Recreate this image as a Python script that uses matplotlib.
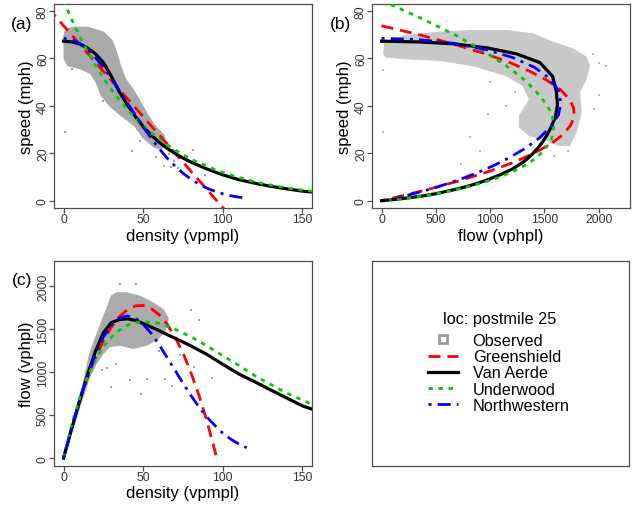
import numpy as np
import matplotlib
matplotlib.use("Agg")
import matplotlib.pyplot as plt
from matplotlib.lines import Line2D

plt.rcParams['font.family'] = ['Liberation Sans', 'DejaVu Sans']

# ---------------- data ----------------
# fitted speed-density models: density (vpmpl) and speed (mph)
greenshield_density = np.array([-10, 0, 5, 10, 15, 20, 25, 30, 35, 40, 45, 50, 55, 60, 65,
                                70, 75, 80, 85, 90, 95, 96.2, 105])
greenshield_speed = np.array([81.5, 73.8, 70.0, 66.1, 62.3, 58.5, 54.6, 50.8, 47.0, 43.1,
                              39.3, 35.5, 31.6, 27.8, 24.0, 20.1, 16.3, 12.4, 8.6, 4.8,
                              0.9, 0.0, -6.7])

vanaerde_density = np.array([0, 5, 10, 15, 20, 25, 30, 35, 40, 45, 50, 55, 60, 65, 70, 75,
                             80, 90, 100, 110, 120, 130, 140, 150, 160, 170, 180, 190,
                             200, 210, 220, 230, 240])
vanaerde_speed = np.array([67.3, 67.0, 66.2, 64.5, 62.0, 58.3, 52.5, 46.0, 40.5, 35.6,
                           31.3, 27.7, 24.7, 22.1, 19.9, 18.0, 16.3, 13.4, 10.9, 8.9,
                           7.4, 6.1, 5.0, 4.05, 3.4, 2.9, 2.4, 1.9, 1.4, 1.0, 0.6,
                           0.25, 0.0])

underwood_density = np.array([0, 5, 10, 15, 20, 25, 30, 35, 40, 45, 50, 55, 60, 65, 70,
                              75, 80, 85, 90, 100, 110, 120, 130, 140, 150, 160, 180,
                              200, 230, 260, 300])
underwood_speed = np.array([84.5, 76.6, 69.5, 63.0, 57.1, 51.8, 46.9, 42.5, 38.6, 35.0,
                            31.7, 28.7, 26.1, 23.6, 21.4, 19.4, 17.6, 16.0, 14.5, 11.9,
                            9.8, 8.0, 6.6, 5.4, 4.5, 3.7, 2.5, 1.7, 0.93, 0.52, 0.24])

northwestern_density = np.array([0, 5, 10, 15, 20, 25, 30, 35, 40, 45, 50, 55, 60, 65,
                                 70, 75, 80, 85, 90, 95, 100, 105, 110, 115])
northwestern_speed = np.array([68.5, 68.0, 66.4, 63.8, 60.4, 56.3, 51.6, 46.5, 41.3, 36.2,
                               31.1, 26.4, 22.0, 18.0, 14.6, 11.6, 9.1, 7.0, 5.3, 4.0,
                               2.9, 2.1, 1.5, 1.05])

# observed data: outline of the dense point cloud in each panel
obs_a_density = [0.3, 1.5, 6.7, 15, 25.2, 30.5, 33.6, 35.7, 38.9, 44.1, 48.3, 52.5, 57,
                 63.3, 64, 61, 57, 50, 44.4, 36.1, 28.8, 23.6, 20.4, 17.2, 11, 2.5, 0.3]
obs_a_speed = [70.0, 72.5, 73.2, 73.2, 71.1, 67.6, 62.0, 57.0, 51.4, 46.5, 41.6, 36.6,
               32.0, 27.5, 24.0, 21.5, 22.5, 26.5, 31.7, 35.9, 40.1, 44.4, 50.0, 53.5,
               55.6, 57.0, 60.0]
obs_b_flow = [20, 30, 227, 534, 840, 1147, 1393, 1577, 1761, 1884, 1914, 1884, 1822,
              1838, 1791, 1730, 1638, 1515, 1362, 1270, 1270, 1331, 1362, 1301, 1147,
              840, 534, 227, 43]
obs_b_speed = [62.0, 66.9, 69.7, 71.1, 71.8, 71.8, 70.4, 66.9, 64.1, 60.6, 57.0, 51.4,
               45.8, 37.3, 28.9, 23.3, 23.3, 25.4, 27.5, 31.0, 35.9, 40.2, 42.9, 48.6,
               52.8, 57.0, 59.2, 59.9, 60.6]
obs_c_density = [0, 5.5, 12, 16.4, 22.7, 26.9, 30, 33.2, 39.5, 47.9, 56.3, 62.6, 65.7,
                 63.6, 58.4, 52.1, 43.7, 35.3, 29, 24.8, 20.6, 16.4, 10.1, 3.8, 0.6]
obs_c_flow = [0, 400, 830, 1216, 1530, 1726, 1883, 1922, 1922, 1883, 1804, 1726, 1628,
              1471, 1373, 1314, 1275, 1314, 1295, 1216, 1099, 942, 589, 236, 21]

# observed: scattered outlying points
out_a_density = [0.6, 11.6, 5, 43.1, 81, 63.2, 67.4, 89.1, 69.5, 58, 25, 48, 66, 72]
out_a_speed = [28.8, 56.3, 55.5, 21.1, 21.5, 14.8, 14.1, 10.9, 16.9, 18.5, 42, 25,
               19.5, 14.0]
out_b_flow = [17, 12, 810, 978, 902, 733, 1592, 1715, 1960, 2068, 2006, 1000, 1150,
              1230, 1950, 2000, 1420, 1300]
out_b_speed = [28.9, 55, 26.8, 36.6, 21.1, 15.5, 19, 21.1, 38.7, 57, 44.4, 50, 40,
               46, 62, 58, 20, 22]
out_c_density = [35.3, 45.3, 24.3, 30, 42, 48.9, 52.1, 33.2, 80, 85.2, 93.2, 68.4,
                 63.8, 82, 27, 60, 73]
out_c_flow = [2020, 2020, 1020, 824, 911, 746, 922, 1099, 1726, 1608, 934, 844, 922,
              1060, 1050, 1250, 1200]

legend_title = "loc: postmile 25"
legend_labels = ["Observed", "Greenshield", "Van Aerde", "Underwood", "Northwestern"]

# ---------------- styling ----------------
W, H = 636, 510
LW = 2.0
styles = {
    'green': dict(color='#ff0000', lw=LW, dashes=(4.3, 2.5)),
    'black': dict(color='#000000', lw=LW + 0.3),
    'under': dict(color='#00cc00', lw=LW, dashes=(1.6, 2.0)),
    'blue': dict(color='#0000ff', lw=LW, dashes=(1.1, 2.2, 4.7, 2.2)),
}
AXC = '#4d4d4d'


def box(l, t, r, b):
    return [l / W, 1 - b / H, (r - l) / W, (b - t) / H]


fig = plt.figure(figsize=(W / 100, H / 100), dpi=100)
ax_a = fig.add_axes(box(54, 4.5, 312, 209.3))
ax_b = fig.add_axes(box(372, 4.5, 630, 209.3))
ax_c = fig.add_axes(box(54, 262.3, 312, 466.7))
ax_l = fig.add_axes(box(372, 262.3, 629, 466.7))


def style(ax, xlim, ylim, xticks, yticks, xlabel, ylabel):
    ax.set_xlim(*xlim)
    ax.set_ylim(*ylim)
    ax.set_xticks(xticks)
    ax.set_yticks(yticks)
    for s in ax.spines.values():
        s.set_color(AXC)
        s.set_linewidth(0.9)
    ax.tick_params(direction='out', length=3.3, width=0.9, color=AXC,
                   labelsize=8.8, labelcolor='#333333', top=False, right=False)
    ax.tick_params(axis='x', pad=0.3)
    ax.tick_params(axis='y', pad=0.3, labelrotation=90)
    for t in ax.get_yticklabels():
        t.set_verticalalignment('center')
    ax.set_xlabel(xlabel, fontsize=12)
    ax.set_ylabel(ylabel, fontsize=12)
    ax.xaxis.set_label_coords(0.5, -0.094)
    ax.yaxis.set_label_coords(-0.0775, 0.5)


k_lim = (-6, 156)
style(ax_a, k_lim, (-3.2, 83.2), [0, 50, 100, 150], [0, 20, 40, 60, 80],
      'density (vpmpl)', 'speed (mph)')
style(ax_b, (-88, 2288), (-3.2, 83.2), [0, 500, 1000, 1500, 2000], [0, 20, 40, 60, 80],
      'flow (vphpl)', 'speed (mph)')
style(ax_c, k_lim, (-88, 2288), [0, 50, 100, 150], [0, 500, 1000, 1500, 2000],
      'density (vpmpl)', 'flow (vphpl)')

# observed clouds
ax_a.fill(obs_a_density, obs_a_speed, color='#a9a9a9', lw=0.8, zorder=1)
ax_b.fill(obs_b_flow, obs_b_speed, color='#c8c8c8', lw=0.8, zorder=1)
ax_c.fill(obs_c_density, obs_c_flow, color='#ababab', lw=0.8, zorder=1)
ptkw = dict(marker='s', ls='none', ms=1.9, mew=0, color='#a0a0a0', zorder=1)
ax_a.plot(out_a_density, out_a_speed, **ptkw)
ax_b.plot(out_b_flow, out_b_speed, **dict(ptkw, color='#b8b8b8'))
ax_c.plot(out_c_density, out_c_flow, **ptkw)

models = [
    (greenshield_density, greenshield_speed, styles['green']),
    (vanaerde_density, vanaerde_speed, styles['black']),
    (underwood_density, underwood_speed, styles['under']),
    (northwestern_density, northwestern_speed, styles['blue']),
]
for i, (k, v, st) in enumerate(models):
    k = np.asarray(k, float)
    v = np.asarray(v, float)
    z = 3 + i
    ax_a.plot(k, v, zorder=z, dash_capstyle='butt', **st)
    m = (k >= 0) & (v >= 0)
    q = k[m] * v[m]
    ax_b.plot(q, v[m], zorder=z, dash_capstyle='butt', **st)
    ax_c.plot(k[m], q, zorder=z, dash_capstyle='butt', **st)

# panel letters
for txt, x, y in [("(a)", 22, 25), ("(b)", 340.5, 25), ("(c)", 22, 280)]:
    fig.text(x / W, 1 - y / H, txt, fontsize=12.5, ha='center', va='center')

# legend panel
ax_l.set_xticks([])
ax_l.set_yticks([])
for s in ax_l.spines.values():
    s.set_color(AXC)
    s.set_linewidth(0.9)
handles = [
    Line2D([], [], marker='s', ls='none', mfc='none', mec='#9a9a9a', mew=2.0, ms=6),
    Line2D([], [], dash_capstyle='butt', **styles['green']),
    Line2D([], [], **styles['black']),
    Line2D([], [], dash_capstyle='butt', **styles['under']),
    Line2D([], [], dash_capstyle='butt', **styles['blue']),
]
leg = ax_l.legend(handles, legend_labels, loc='upper left',
                  bbox_to_anchor=((428 - 372) / 257, 1 - (333.9 - 262.3) / 204.4),
                  frameon=False, fontsize=11.7, handlelength=1.85, handletextpad=0.9,
                  labelspacing=0.08, borderpad=0, borderaxespad=0, handleheight=0.7)
ax_l.text((499.7 - 372) / 257, 1 - (320 - 262.3) / 204.4, legend_title,
          transform=ax_l.transAxes, fontsize=11.7, ha='center', va='center')

fig.savefig("out.png", dpi=100)
